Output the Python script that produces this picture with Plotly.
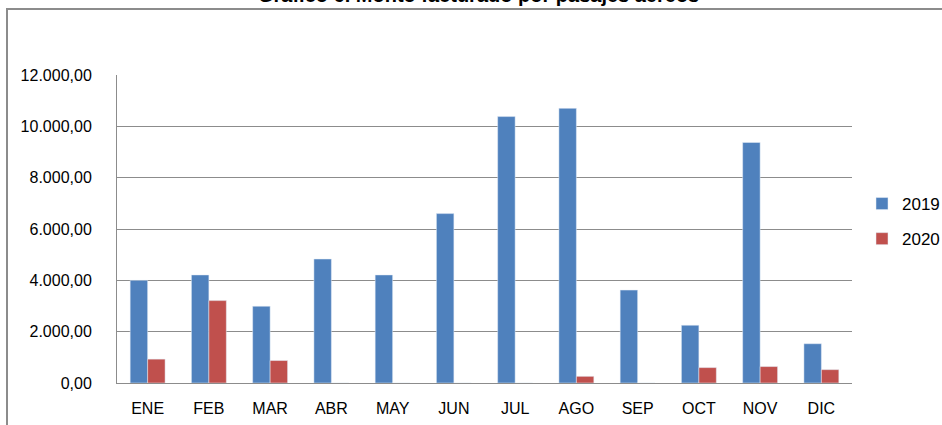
import plotly.graph_objects as go

months = ["ENE", "FEB", "MAR", "ABR", "MAY", "JUN", "JUL", "AGO", "SEP", "OCT", "NOV", "DIC"]
values_2019 = [4000, 4210, 2990, 4830, 4210, 6600, 10380, 10700, 3620, 2250, 9370, 1530]
values_2020 = [930, 3210, 875, 0, 0, 0, 0, 260, 0, 600, 640, 520]
tick_vals = [0, 2000, 4000, 6000, 8000, 10000, 12000]
tick_text = ["0,00", "2.000,00", "4.000,00", "6.000,00", "8.000,00", "10.000,00", "12.000,00"]
title_text = "Gráfico 6. Monto facturado por pasajes aéreos"

W, H = 942, 425
L, R, T, B = 117, 90, 75, 42
pw, ph = W - L - R, H - T - B

def px_x(x):
    return (x - L) / pw

def px_y(y):
    return (H - B - y) / ph

FONT = "Liberation Sans, Arial, sans-serif"

fig = go.Figure()
fig.add_trace(go.Bar(x=months, y=values_2019, name="2019", marker_color="#4F81BD",
                     legendgroup="a"))
fig.add_trace(go.Bar(x=months, y=values_2020, name="2020", marker_color="#C0504D",
                     legendgroup="b"))

fig.update_layout(
    width=W, height=H,
    margin=dict(l=L, r=R, t=T, b=B, autoexpand=False),
    paper_bgcolor="white", plot_bgcolor="white",
    barmode="group", bargap=0.43, bargroupgap=0,
    font=dict(family=FONT, size=16, color="#000000"),
    showlegend=True,
    legend=dict(xref="container", yref="container",
                x=862 / W, y=1 - 186 / H, xanchor="left", yanchor="top",
                font=dict(size=17), tracegroupgap=10, traceorder="grouped",
                bgcolor="rgba(0,0,0,0)"),
    xaxis=dict(showgrid=False, showline=True, linecolor="#8C8C8C", linewidth=1,
               ticks="", tickfont=dict(size=16), ticklabelstandoff=11, automargin=False),
    yaxis=dict(range=[0, 12000], tickvals=tick_vals, ticktext=tick_text,
               showgrid=True, gridcolor="#8C8C8C", gridwidth=1,
               showline=True, linecolor="#8C8C8C", linewidth=1,
               zeroline=False, ticks="", tickfont=dict(size=16), ticklabelstandoff=21,
               automargin=False),
    annotations=[dict(text="<b>" + title_text + "</b>", xref="paper", yref="paper",
                      x=px_x(478), y=px_y(8), xanchor="center", yanchor="bottom",
                      showarrow=False, font=dict(size=20, family=FONT))],
    shapes=[dict(type="rect", xref="paper", yref="paper",
                 x0=px_x(7), x1=px_x(960), y0=px_y(440), y1=px_y(9),
                 line=dict(color="#8C8C8C", width=2), layer="below")],
)

fig.write_html(
    "out.html",
    config={"displayModeBar": False},
    post_script="document.body.style.margin='0';document.body.style.overflow='hidden';",
)
